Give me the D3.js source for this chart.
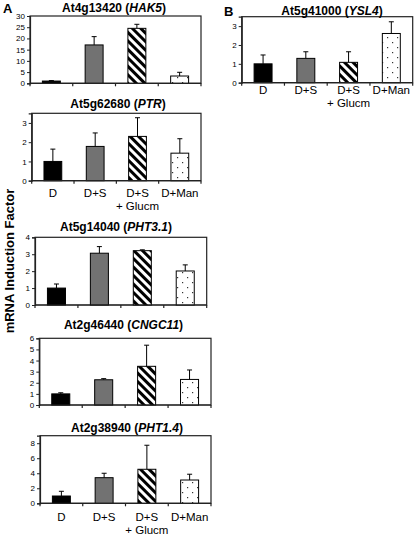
<!DOCTYPE html>
<html><head><meta charset="utf-8">
<script src="https://cdn.jsdelivr.net/npm/d3@7"></script>
<style>html,body{margin:0;padding:0;background:#fff;} svg{display:block;font-family:Arial,"Liberation Sans",sans-serif;}</style>
</head><body>
<script>
// ---------- DATA ----------
const categories = ["D", "D+S", "D+S|+ Glucm", "D+Man"];
const geneIds   = ["At4g13420", "At5g62680", "At5g14040", "At2g46440", "At2g38940", "At5g41000"];
const geneNames = ["HAK5", "PTR", "PHT3.1", "CNGC11", "PHT1.4", "YSL4"];
const hak5   = [1.0, 17.1, 24.5, 3.25];
const hak5Err = [0.2, 3.7, 1.8, 1.65];
const ptr    = [1.0, 1.78, 2.30, 1.43];
const ptrErr = [0.64, 0.70, 0.97, 0.75];
const pht31    = [1.0, 3.06, 3.21, 2.01];
const pht31Err = [0.24, 0.39, 0.05, 0.36];
const cngc11    = [1.0, 2.27, 3.48, 2.30];
const cngc11Err = [0.1, 0.1, 1.9, 0.85];
const pht14    = [0.97, 3.41, 4.53, 3.10];
const pht14Err = [0.63, 0.59, 3.2, 0.77];
const ysl4    = [1.0, 1.29, 1.08, 2.61];
const ysl4Err = [0.47, 0.35, 0.56, 0.62];
const yMax   = [30, 3.5, 4, 6, 9, 3.5];
const yTicks = [[0,5,10,15,20,25,30],[0,1,2,3],[0,1,2,3,4],[0,1,2,3,4,5,6],[0,2,4,6,8],[0,1,2,3]];
const seriesValues = [hak5, ptr, pht31, cngc11, pht14, ysl4];
const seriesErrors = [hak5Err, ptrErr, pht31Err, cngc11Err, pht14Err, ysl4Err];

// ---------- LAYOUT ----------
const layout = [
  {l:30,   t:16,    b:83.3,  r:201,   tx:114,  ty:11.5, labels:false},
  {l:31.7, t:113.3, b:180.7, r:201,   tx:118,  ty:108,  labels:true, ly:197},
  {l:35,   t:237.3, b:305,   r:206.7, tx:116,  ty:231,  labels:false},
  {l:39.3, t:338.3, b:405,   r:211,   tx:123.5,ty:329,  labels:false},
  {l:40,   t:435.7, b:503.3, r:211,   tx:127,  ty:432,  labels:true, ly:521},
  {l:241.7,t:16.7,  b:82.7,  r:412.7, tx:332,  ty:14.5, labels:true, ly:94}
];
const fills = ["#000", "#727272", "url(#hatch)", "url(#dots)"];

const svg = d3.select("body").append("svg").attr("width",415).attr("height",537);
const defs = svg.append("defs");
const hatch = defs.append("pattern").attr("id","hatch").attr("patternUnits","userSpaceOnUse")
  .attr("width",6).attr("height",6).attr("patternTransform","rotate(-45)");
hatch.append("rect").attr("width",6).attr("height",6).attr("fill","#fff");
hatch.append("rect").attr("width",3).attr("height",6).attr("fill","#000");
const dots = defs.append("pattern").attr("id","dots").attr("patternUnits","userSpaceOnUse")
  .attr("width",10).attr("height",10);
dots.append("rect").attr("width",10).attr("height",10).attr("fill","#fff");
dots.append("rect").attr("x",2).attr("y",2).attr("width",1.2).attr("height",1.2).attr("fill","#333");
dots.append("rect").attr("x",7).attr("y",7).attr("width",1.2).attr("height",1.2).attr("fill","#333");

svg.append("text").attr("x",3).attr("y",13).attr("font-weight","bold").attr("font-size",13).text("A");
svg.append("text").attr("x",224).attr("y",16).attr("font-weight","bold").attr("font-size",13).text("B");
svg.append("text").attr("transform","translate(14,261) rotate(-90)").attr("text-anchor","middle")
  .attr("font-weight","bold").attr("font-size",13).text("mRNA Induction Factor");

layout.forEach((L,i)=>{
  const g = svg.append("g");
  const x = d3.scaleBand().domain(categories).range([L.l, L.r]).paddingInner(0.58).paddingOuter(0.29);
  const xb = d3.scaleBand().domain(categories).range([L.l, L.r]);
  const y = d3.scaleLinear().domain([0, yMax[i]]).range([L.b, L.t]);
  g.append("rect").attr("x",L.l).attr("y",L.t).attr("width",L.r-L.l).attr("height",L.b-L.t)
    .attr("fill","none").attr("stroke","#222").attr("stroke-width",1.2);
  const vals = seriesValues[i], errs = seriesErrors[i];
  categories.forEach((c,j)=>{
    const top = y(vals[j]+errs[j]);
    const cx = x(c)+x.bandwidth()/2;
    g.append("line").attr("x1",cx).attr("x2",cx).attr("y1",y(vals[j])).attr("y2",top).attr("stroke","#000").attr("stroke-width",1);
    g.append("line").attr("x1",cx-2.5).attr("x2",cx+2.5).attr("y1",top).attr("y2",top).attr("stroke","#000").attr("stroke-width",1);
    g.append("rect").attr("x",x(c)).attr("y",y(vals[j])).attr("width",x.bandwidth()).attr("height",L.b-y(vals[j]))
      .attr("fill",fills[j]).attr("stroke","#000").attr("stroke-width",1);
  });
  const ya = g.append("g").attr("transform",`translate(${L.l},0)`)
    .call(d3.axisLeft(y).tickValues(yTicks[i]).tickSize(3).tickPadding(2).tickFormat(d3.format("d")));
  ya.select(".domain").attr("stroke","#222").attr("stroke-width",1.2);
  ya.selectAll(".tick line").attr("stroke","#222");
  ya.selectAll("text").attr("font-size",8).attr("font-family","Arial, Liberation Sans, sans-serif").attr("fill","#000");
  g.append("line").attr("x1",L.l).attr("x2",L.r).attr("y1",L.b).attr("y2",L.b).attr("stroke","#222").attr("stroke-width",1.2);
  const bounds = categories.map(c=>xb(c)).concat([L.r]);
  g.selectAll(".xt").data(bounds).enter().append("line").attr("x1",d=>d).attr("x2",d=>d)
    .attr("y1",L.b).attr("y2",L.b+3).attr("stroke","#222").attr("stroke-width",1.2);
  const t = g.append("text").attr("x",L.tx).attr("y",L.ty).attr("text-anchor","middle")
    .attr("font-weight","bold").attr("font-size",12);
  t.append("tspan").text(geneIds[i]+" (");
  t.append("tspan").attr("font-style","italic").text(geneNames[i]);
  t.append("tspan").text(")");
  if (L.labels) {
    categories.forEach(c=>{
      const parts = c.split("|");
      const cx = xb(c)+xb.bandwidth()/2;
      parts.forEach((p,k)=>{
        g.append("text").attr("x",cx).attr("y",L.ly+k*12.5).attr("text-anchor","middle")
          .attr("font-size",11.5).text(p);
      });
    });
  }
});
</script>
</body></html>
